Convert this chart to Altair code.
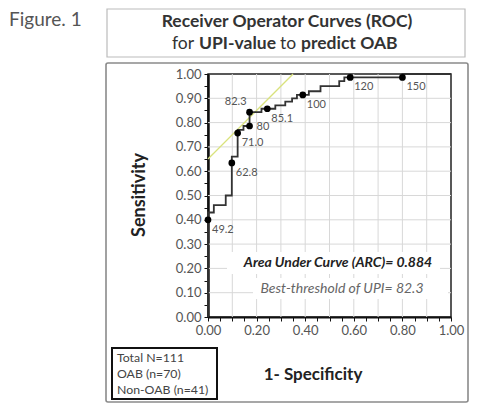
import altair as alt
import pandas as pd

# ROC step curve corners (1-specificity, sensitivity)
roc_fpr = [0.0, 0.0, 0.024, 0.073, 0.098, 0.122, 0.146, 0.171, 0.220, 0.277, 0.318,
           0.346, 0.366, 0.415, 0.463, 0.540, 0.561, 0.800, 1.0]
roc_tpr = [0.0, 0.43, 0.46, 0.50, 0.66, 0.77, 0.786, 0.843, 0.857, 0.871, 0.886,
           0.900, 0.914, 0.929, 0.950, 0.971, 0.986, 1.0, 1.0]

# Threshold points (UPI values)
thr_label = ["49.2", "62.8", "71.0", "80", "82.3", "85.1", "100", "120", "150"]
thr_fpr = [0.0, 0.098, 0.122, 0.171, 0.171, 0.244, 0.390, 0.585, 0.800]
thr_tpr = [0.40, 0.634, 0.757, 0.786, 0.843, 0.857, 0.914, 0.986, 0.986]

# Tangent reference line (slope 1 through best threshold)
ref_x = [0.0, 0.35]
ref_y = [0.65, 1.0]

grid_vals = [0.1, 0.2, 0.3, 0.4, 0.5, 0.6, 0.7, 0.8, 0.9]
tick_vals = [round(i * 0.05, 2) for i in range(21)]

legend_lines = ["Total N=111", "OAB (n=70)", "Non-OAB (n=41)"]

FONT = "Lato"
W, H = 243, 243

roc_df = pd.DataFrame({"i": range(len(roc_fpr)), "fpr": roc_fpr, "tpr": roc_tpr})
thr_df = pd.DataFrame({"label": thr_label, "fpr": thr_fpr, "tpr": thr_tpr})
ref_df = pd.DataFrame({"fpr": ref_x, "tpr": ref_y})
grid_df = pd.DataFrame({"v": grid_vals})
one = pd.DataFrame({"a": [0]})

xs = alt.Scale(domain=[0, 1], nice=False, zero=False)
ys = alt.Scale(domain=[0, 1], nice=False, zero=False)

x_axis = alt.Axis(values=tick_vals, grid=False, tickSize=4, tickColor="#111",
                  domainColor="#111", domainWidth=2, labelFont=FONT, labelFontSize=13,
                  labelColor="#555", labelFlush=False, labelOverlap=False, labelPadding=3,
                  labelExpr="abs(datum.value*5 - round(datum.value*5)) < 0.01 ? format(datum.value, '.2f') : ''",
                  title=None)
y_axis = alt.Axis(values=tick_vals, grid=False, tickSize=4, tickColor="#111",
                  domainColor="#111", domainWidth=2.5, labelFont=FONT, labelFontSize=13,
                  labelColor="#555", labelFlush=False, labelOverlap=False, labelPadding=3,
                  labelExpr="abs(datum.value*10 - round(datum.value*10)) < 0.01 ? format(datum.value, '.2f') : ''",
                  title=None)


def X(field):
    return alt.X(field, scale=xs, axis=x_axis)


def Y(field):
    return alt.Y(field, scale=ys, axis=y_axis)


gx = alt.Chart(grid_df).mark_rule(color="#d8d8d8", strokeWidth=1).encode(x=X("v:Q"))
gy = alt.Chart(grid_df).mark_rule(color="#d8d8d8", strokeWidth=1).encode(y=Y("v:Q"))

bg1 = alt.Chart(one).mark_rect(color="white").encode(
    x=alt.value(19), x2=alt.value(232), y=alt.value(178), y2=alt.value(200))
bg2 = alt.Chart(one).mark_rect(color="white").encode(
    x=alt.value(45), x2=alt.value(240), y=alt.value(204), y2=alt.value(225))

ref = alt.Chart(ref_df).mark_line(color="#d9e27c", strokeWidth=1.3).encode(
    x=X("fpr:Q"), y=Y("tpr:Q"))

roc = alt.Chart(roc_df).mark_line(color="#333333", strokeWidth=1.8,
                                  interpolate="step-after").encode(
    x=X("fpr:Q"), y=Y("tpr:Q"), order="i:Q")

dots = alt.Chart(thr_df).mark_circle(color="black", size=45, opacity=1).encode(
    x=X("fpr:Q"), y=Y("tpr:Q"))

labs = alt.Chart(thr_df).mark_text(font=FONT, fontSize=11, color="#555",
                                   align="left", baseline="middle", dx=4, dy=10).transform_filter(
    "datum.label != '80' && datum.label != '82.3'").encode(
    x=X("fpr:Q"), y=Y("tpr:Q"), text="label:N")
lab80 = alt.Chart(thr_df).mark_text(font=FONT, fontSize=11, color="#555", align="left",
                                     baseline="middle", dx=7, dy=1).transform_filter(
    "datum.label == '80'").encode(x=X("fpr:Q"), y=Y("tpr:Q"), text="label:N")
lab823 = alt.Chart(thr_df).mark_text(font=FONT, fontSize=11, color="#555", align="right",
                                      baseline="middle", dx=-3, dy=-10).transform_filter(
    "datum.label == '82.3'").encode(x=X("fpr:Q"), y=Y("tpr:Q"), text="label:N")

auc = alt.Chart(one).mark_text(font=FONT, fontSize=14, fontWeight="bold", fontStyle="italic",
                               color="#222", align="center", baseline="middle").encode(
    x=alt.value(130), y=alt.value(189), text=alt.value("Area Under Curve (ARC)= 0.884"))
best = alt.Chart(one).mark_text(font=FONT, fontSize=14, fontStyle="italic",
                                color="#666", align="center", baseline="middle").encode(
    x=alt.value(134), y=alt.value(215), text=alt.value("Best-threshold of UPI= 82.3"))

# decorative frame elements
outer = alt.Chart(one).mark_rect(fill=None, stroke="#8a8a8a", strokeWidth=1.6,
                                 cornerRadius=2).encode(
    x=alt.value(-102), x2=alt.value(260), y=alt.value(-11), y2=alt.value(328))
tbox = alt.Chart(one).mark_rect(fill=None, stroke="#bbbbbb", strokeWidth=1.2).encode(
    x=alt.value(-101), x2=alt.value(257), y=alt.value(-65), y2=alt.value(-17))
fig = alt.Chart(one).mark_text(font=FONT, fontSize=19, color="#555", align="left",
                               baseline="middle").encode(
    x=alt.value(-199), y=alt.value(-54), text=alt.value("Figure. 1"))
t1 = alt.Chart(one).mark_text(font=FONT, fontSize=17.5, fontWeight="bold", color="#333",
                              align="center", baseline="middle").encode(
    x=alt.value(79), y=alt.value(-52), text=alt.value("Receiver Operator Curves (ROC)"))


def seg(txt, x, bold):
    return alt.Chart(one).mark_text(font=FONT, fontSize=17.5,
                                    fontWeight="bold" if bold else "normal",
                                    color="#333", align="left", baseline="middle").encode(
        x=alt.value(x), y=alt.value(-30), text=alt.value(txt))


t2 = seg("for", -36, False) + seg("UPI-value", -9, True) + seg("to", 72, False) + seg("predict OAB", 93, True)

sens = alt.Chart(one).mark_text(font=FONT, fontSize=18, fontWeight="bold", color="#222",
                                angle=270, align="center", baseline="middle").encode(
    x=alt.value(-68), y=alt.value(121), text=alt.value("Sensitivity"))
spec = alt.Chart(one).mark_text(font=FONT, fontSize=17, fontWeight="bold", color="#222",
                                align="center", baseline="middle").encode(
    x=alt.value(105), y=alt.value(301), text=alt.value("1- Specificity"))

lbox = alt.Chart(one).mark_rect(fill=None, stroke="#111", strokeWidth=2).encode(
    x=alt.value(-96), x2=alt.value(9), y=alt.value(274), y2=alt.value(325))


def leg_line(k, y):
    return alt.Chart(one).mark_text(font=FONT, fontSize=12.3, color="#444", align="left",
                                    baseline="middle").encode(
        x=alt.value(-91), y=alt.value(y), text=alt.value(legend_lines[k]))


leg = leg_line(0, 284) + leg_line(1, 300) + leg_line(2, 316)

chart = alt.layer(
    outer, tbox, fig, t1, t2, gx, gy, bg1, bg2, ref, roc, dots, labs, lab80, lab823,
    auc, best, sens, spec, lbox, leg
).properties(
    width=W, height=H,
    autosize=alt.AutoSizeParams(type="none"),
    padding={"left": 200, "top": 66, "right": 34, "bottom": 86},
).configure_view(stroke="#222", strokeWidth=1.5)

chart.save("out.html", embed_options={"renderer": "svg", "actions": False})
